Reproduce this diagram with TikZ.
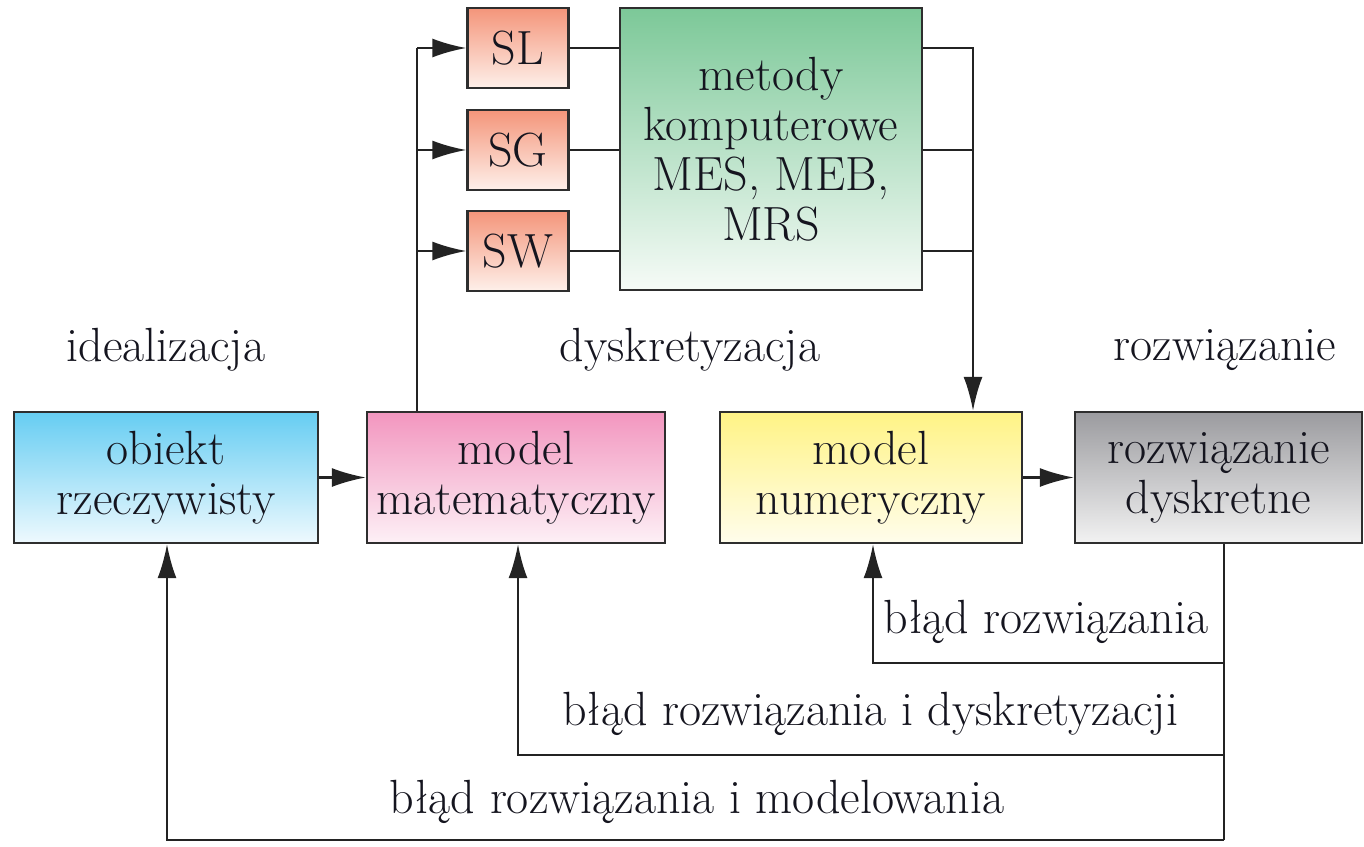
\documentclass[tikz,border=0pt]{standalone}
\usetikzlibrary{arrows.meta}
\definecolor{bordc}{HTML}{2E2E2E}
\definecolor{linec}{HTML}{232323}
\definecolor{txtc}{HTML}{15151F}
\definecolor{cyanT}{HTML}{66CDF2}
\definecolor{cyanB}{HTML}{EEF9FE}
\definecolor{pinkT}{HTML}{F296BF}
\definecolor{pinkB}{HTML}{FDF0F6}
\definecolor{yelT}{HTML}{FFF385}
\definecolor{yelB}{HTML}{FFFDEC}
\definecolor{grayT}{HTML}{9B9B9F}
\definecolor{grayB}{HTML}{F2F2F2}
\definecolor{salT}{HTML}{F4957A}
\definecolor{salB}{HTML}{FEF0EA}
\definecolor{grnT}{HTML}{7CC898}
\definecolor{grnB}{HTML}{F6FBF7}
\tikzset{
  box/.style={draw=bordc, line width=2.4pt, inner sep=0pt, align=center,
    font=\fontsize{48}{50}\selectfont, text=txtc},
  bigbox/.style={box, minimum height=131pt},
  smallbox/.style={box, minimum width=101pt, minimum height=80pt},
  conn/.style={draw=linec, line width=2.2pt},
  arr/.style={conn, -{Latex[length=34pt,width=19pt]}},
  lbl/.style={font=\fontsize{48}{50}\selectfont, inner sep=0pt, text=txtc},
}
\begin{document}
\begin{tikzpicture}[x=1pt,y=-1pt]
\useasboundingbox (0,0) rectangle (1364,846);
% main boxes
\node[bigbox, minimum width=304pt, top color=cyanT, bottom color=cyanB] (obj) at (166,477.5) {obiekt\\rzeczywisty};
\node[bigbox, minimum width=298pt, top color=pinkT, bottom color=pinkB] (mat) at (516,477.5) {model\\matematyczny};
\node[bigbox, minimum width=302pt, top color=yelT, bottom color=yelB] (num) at (871,477.5) {model\\numeryczny};
\node[bigbox, minimum width=287pt, top color=grayT, bottom color=grayB] (rd) at (1218.5,477.5) {rozwiązanie\\dyskretne};
% top boxes
\node[smallbox, top color=salT, bottom color=salB] (SL) at (518,48) {SL};
\node[smallbox, top color=salT, bottom color=salB] (SG) at (518,150) {SG};
\node[smallbox, top color=salT, bottom color=salB] (SW) at (518,251) {SW};
\node[box, minimum width=302pt, minimum height=282pt, top color=grnT, bottom color=grnB] (met) at (771,149)
  {\fontsize{48}{50}\selectfont metody\\komputerowe\\MES, MEB,\\MRS};
% labels
\node[lbl] (l1) at (166,350) {idealizacja};
\node[lbl] (l2) at (690,350) {dyskretyzacja};
\node[lbl] (l3) at (1225,350) {rozwiązanie};
\node[lbl] (e1) at (1046,622) {błąd rozwiązania};
\node[lbl] (e2) at (870,714) {błąd rozwiązania i dyskretyzacji};
\node[lbl] (e3) at (697,802) {błąd rozwiązania i modelowania};
% horizontal arrows
\draw[arr] (obj) -- (mat);
\draw[arr] (num) -- (rd);
% left distribution
\coordinate (jt) at (417,48);
\draw[conn] (jt |- mat.north) -- (jt);
\draw[arr] (jt) -- (SL);
\draw[arr] (jt |- SG) -- (SG);
\draw[arr] (jt |- SW) -- (SW);
% to metody
\draw[conn] (SL.east) -- (SL.east -| met.west);
\draw[conn] (SG.east) -- (SG.east -| met.west);
\draw[conn] (SW.east) -- (SW.east -| met.west);
% right collection
\coordinate (jr) at (973,48);
\draw[conn] (met.east |- SG) -- (jr |- SG);
\draw[conn] (met.east |- SW) -- (jr |- SW);
\draw[arr] (met.east |- SL) -- (jr) -- (jr |- num.north);
% feedback
\coordinate (br) at (1224,840);
\coordinate (f1) at (873,663);
\coordinate (f2) at (518,755);
\coordinate (f3) at (167,840);
\draw[conn] (br |- rd.south) -- (br);
\draw[arr] (br |- f1) -- (f1) -- (f1 |- num.south);
\draw[arr] (br |- f2) -- (f2) -- (f2 |- mat.south);
\draw[arr] (br) -- (f3) -- (f3 |- obj.south);
\end{tikzpicture}
\end{document}
